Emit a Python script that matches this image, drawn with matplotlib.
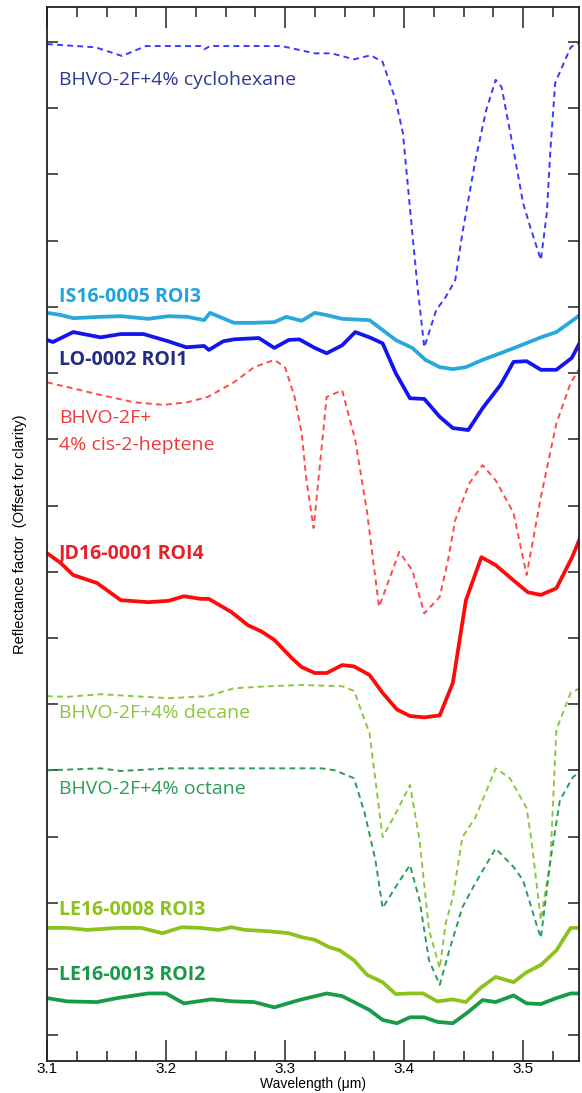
import matplotlib
matplotlib.use("Agg")
import matplotlib.pyplot as plt
from matplotlib.ticker import MultipleLocator

# lab spectra (dashed) and field ROI spectra (solid), offset for clarity
x_cyclohexane = [3.100, 3.141, 3.163, 3.183, 3.229, 3.232, 3.237, 3.297, 3.325, 3.339,
                 3.358, 3.372, 3.382, 3.393, 3.399, 3.403, 3.407, 3.411, 3.417, 3.427,
                 3.435, 3.443, 3.449, 3.460, 3.469, 3.477, 3.482, 3.492, 3.500, 3.506,
                 3.515, 3.520, 3.523, 3.527, 3.531, 3.540, 3.545, 3.550]
y_cyclohexane = [14.97, 14.92, 14.79, 14.94, 14.94, 14.89, 14.94, 14.94, 14.83, 14.83,
                 14.74, 14.80, 14.70, 14.12, 13.63, 12.87, 12.11, 11.36, 10.39, 10.95,
                 11.15, 11.40, 12.11, 13.22, 13.97, 14.43, 14.32, 13.37, 12.57, 12.21,
                 11.71, 12.42, 13.37, 14.38, 14.55, 14.92, 14.98, 14.98]

x_is16 = [3.100, 3.111, 3.122, 3.145, 3.162, 3.185, 3.202, 3.218, 3.232, 3.237,
          3.257, 3.274, 3.291, 3.301, 3.314, 3.325, 3.334, 3.348, 3.371, 3.382,
          3.393, 3.407, 3.418, 3.430, 3.441, 3.452, 3.466, 3.481, 3.494, 3.515,
          3.528, 3.542, 3.550]
y_is16 = [10.91, 10.88, 10.83, 10.85, 10.86, 10.82, 10.86, 10.85, 10.80, 10.91,
          10.76, 10.76, 10.77, 10.85, 10.79, 10.91, 10.88, 10.82, 10.80, 10.65,
          10.50, 10.38, 10.20, 10.09, 10.06, 10.09, 10.20, 10.30, 10.39, 10.54,
          10.62, 10.80, 10.91]

x_lo0002 = [3.100, 3.105, 3.122, 3.145, 3.162, 3.181, 3.202, 3.217, 3.232, 3.236,
            3.248, 3.257, 3.278, 3.291, 3.303, 3.312, 3.325, 3.335, 3.348, 3.359,
            3.371, 3.382, 3.393, 3.405, 3.417, 3.430, 3.441, 3.454, 3.466, 3.481,
            3.492, 3.503, 3.515, 3.528, 3.541, 3.550]
y_lo0002 = [10.50, 10.47, 10.62, 10.54, 10.59, 10.59, 10.48, 10.39, 10.41, 10.35,
            10.48, 10.51, 10.53, 10.38, 10.50, 10.51, 10.38, 10.30, 10.42, 10.62,
            10.54, 10.45, 10.00, 9.62, 9.61, 9.34, 9.17, 9.14, 9.47, 9.82,
            10.17, 10.18, 10.05, 10.05, 10.23, 10.54]

x_heptene = [3.100, 3.117, 3.145, 3.173, 3.198, 3.218, 3.235, 3.257, 3.274, 3.291,
             3.300, 3.308, 3.314, 3.318, 3.324, 3.328, 3.335, 3.348, 3.359, 3.369,
             3.379, 3.396, 3.407, 3.417, 3.430, 3.437, 3.443, 3.455, 3.466, 3.477,
             3.492, 3.503, 3.515, 3.528, 3.540, 3.550]
y_heptene = [9.86, 9.79, 9.67, 9.56, 9.52, 9.56, 9.64, 9.86, 10.09, 10.20,
             10.09, 9.64, 9.09, 8.38, 7.66, 8.38, 9.64, 9.74, 8.99, 7.89,
             6.47, 7.30, 7.02, 6.37, 6.62, 7.18, 7.78, 8.34, 8.61, 8.38,
             7.89, 6.95, 8.13, 9.24, 9.85, 10.15]

x_jd16 = [3.100, 3.111, 3.122, 3.142, 3.162, 3.185, 3.202, 3.215, 3.229, 3.236,
          3.255, 3.269, 3.280, 3.291, 3.306, 3.314, 3.325, 3.335, 3.348, 3.358,
          3.371, 3.382, 3.394, 3.405, 3.417, 3.430, 3.441, 3.452, 3.465, 3.477,
          3.492, 3.504, 3.515, 3.528, 3.541, 3.550]
y_jd16 = [7.28, 7.14, 6.95, 6.83, 6.57, 6.54, 6.56, 6.63, 6.59, 6.59,
          6.39, 6.19, 6.10, 5.97, 5.69, 5.56, 5.47, 5.47, 5.59, 5.57,
          5.44, 5.17, 4.92, 4.82, 4.80, 4.83, 5.32, 6.57, 7.22, 7.10,
          6.87, 6.69, 6.65, 6.75, 7.21, 7.60]

x_decane = [3.100, 3.117, 3.145, 3.173, 3.202, 3.235, 3.257, 3.286, 3.314, 3.348,
            3.358, 3.371, 3.382, 3.393, 3.405, 3.413, 3.421, 3.430, 3.435, 3.441,
            3.449, 3.460, 3.477, 3.489, 3.503, 3.507, 3.515, 3.523, 3.528, 3.540,
            3.550]
y_decane = [5.12, 5.11, 5.15, 5.12, 5.09, 5.12, 5.24, 5.27, 5.29, 5.27,
            5.20, 4.56, 2.99, 3.35, 3.78, 2.95, 1.59, 1.01, 1.69, 2.08,
            2.99, 3.29, 4.03, 3.88, 3.43, 2.95, 1.74, 2.64, 4.61, 5.17,
            5.26]

x_octane = [3.100, 3.145, 3.162, 3.202, 3.257, 3.314, 3.331, 3.342, 3.358, 3.367,
            3.376, 3.382, 3.393, 3.405, 3.413, 3.421, 3.430, 3.438, 3.449, 3.460,
            3.477, 3.492, 3.500, 3.511, 3.515, 3.523, 3.531, 3.542, 3.550]
y_octane = [4.00, 4.03, 3.99, 4.03, 4.03, 4.03, 4.03, 4.00, 3.88, 3.35,
            2.64, 1.92, 2.24, 2.57, 2.04, 1.13, 0.76, 1.28, 1.93, 2.30,
            2.82, 2.54, 2.34, 1.69, 1.47, 2.64, 3.55, 3.90, 4.00]

x_le0008 = [3.100, 3.117, 3.134, 3.159, 3.179, 3.197, 3.213, 3.229, 3.244, 3.255,
            3.266, 3.286, 3.303, 3.314, 3.325, 3.337, 3.346, 3.358, 3.369, 3.382,
            3.393, 3.405, 3.416, 3.428, 3.441, 3.452, 3.464, 3.477, 3.492, 3.503,
            3.515, 3.528, 3.540, 3.550]
y_le0008 = [1.62, 1.62, 1.59, 1.62, 1.62, 1.54, 1.63, 1.62, 1.59, 1.63,
            1.59, 1.57, 1.54, 1.48, 1.44, 1.33, 1.28, 1.13, 0.91, 0.80,
            0.62, 0.63, 0.63, 0.51, 0.54, 0.50, 0.71, 0.88, 0.80, 0.95,
            1.06, 1.28, 1.62, 1.62]

x_le0013 = [3.100, 3.117, 3.142, 3.159, 3.185, 3.200, 3.215, 3.238, 3.257, 3.274,
            3.291, 3.306, 3.314, 3.335, 3.348, 3.371, 3.382, 3.394, 3.405, 3.417,
            3.428, 3.441, 3.454, 3.466, 3.477, 3.492, 3.503, 3.515, 3.528, 3.540,
            3.550]
y_le0013 = [0.56, 0.51, 0.50, 0.56, 0.63, 0.63, 0.48, 0.54, 0.51, 0.50,
            0.42, 0.50, 0.54, 0.63, 0.59, 0.38, 0.23, 0.18, 0.27, 0.27,
            0.20, 0.18, 0.35, 0.53, 0.50, 0.60, 0.48, 0.47, 0.56, 0.63,
            0.63]

plt.rcParams['font.family'] = ['Liberation Sans', 'DejaVu Sans']

fig = plt.figure(figsize=(5.82, 10.93), dpi=100)
ax = fig.add_axes([0.0808, 0.0293, 0.9140, 0.9643])

dash = (0, (3.0, 2.2))
ax.plot(x_cyclohexane, y_cyclohexane, color='#3a3aff', lw=1.4, linestyle=dash)
ax.plot(x_heptene, y_heptene, color='#ff4a4a', lw=1.4, linestyle=dash)
ax.plot(x_decane, y_decane, color='#8dc63f', lw=1.4, linestyle=dash)
ax.plot(x_octane, y_octane, color='#2a9d58', lw=1.4, linestyle=dash)

ax.plot(x_is16, y_is16, color='#29a8dc', lw=2.7)
ax.plot(x_lo0002, y_lo0002, color='#1414f0', lw=2.7)
ax.plot(x_jd16, y_jd16, color='#ff0a0a', lw=2.7)
ax.plot(x_le0008, y_le0008, color='#8cc21c', lw=2.7)
ax.plot(x_le0013, y_le0013, color='#179b48', lw=2.7)

lab = dict(family=['Open Sans', 'DejaVu Sans'], fontsize=14, va='center', ha='left')
ax.text(3.110, 14.43, 'BHVO-2F+4% cyclohexane', color='#2e3a8f', **lab)
ax.text(3.110, 11.15, 'IS16-0005 ROI3', color='#1fa3dc', fontweight='bold', **lab)
ax.text(3.110, 10.20, 'LO-0002 ROI1', color='#232c82', fontweight='bold', **lab)
ax.text(3.110, 9.32, 'BHVO-2F+', color='#ee3a3a', **lab)
ax.text(3.110, 8.92, '4% cis-2-heptene', color='#ee3a3a', **lab)
ax.text(3.110, 7.28, 'JD16-0001 ROI4', color='#e8202a', fontweight='bold', **lab)
ax.text(3.110, 4.86, 'BHVO-2F+4% decane', color='#8dc63f', **lab)
ax.text(3.110, 3.72, 'BHVO-2F+4% octane', color='#2a9d58', **lab)
ax.text(3.110, 1.89, 'LE16-0008 ROI3', color='#8cc21c', fontweight='bold', **lab)
ax.text(3.110, 0.91, 'LE16-0013 ROI2', color='#179b48', fontweight='bold', **lab)

ax.set_xlim(3.1, 3.547)
ax.set_ylim(-0.39, 15.53)
ax.xaxis.set_major_locator(MultipleLocator(0.1))
ax.xaxis.set_minor_locator(MultipleLocator(0.025))
ax.yaxis.set_major_locator(MultipleLocator(1))
ax.set_yticklabels([])
ax.tick_params(axis='both', which='both', direction='in', top=True, right=True,
               width=1.1, color='#222222')
ax.tick_params(axis='x', which='major', length=15, labelsize=11, pad=1)
ax.tick_params(axis='x', which='minor', length=7.5)
ax.tick_params(axis='y', which='major', length=8)
for s in ax.spines.values():
    s.set_linewidth(1.3)
    s.set_color('#222222')

ax.set_xlabel('Wavelength (μm)', fontsize=10)
ax.xaxis.set_label_coords(0.5, -0.0155)
ax.set_ylabel('Reflectance factor  (Offset for clarity)', fontsize=10.5, labelpad=11)

fig.savefig('out.png', dpi=100)
